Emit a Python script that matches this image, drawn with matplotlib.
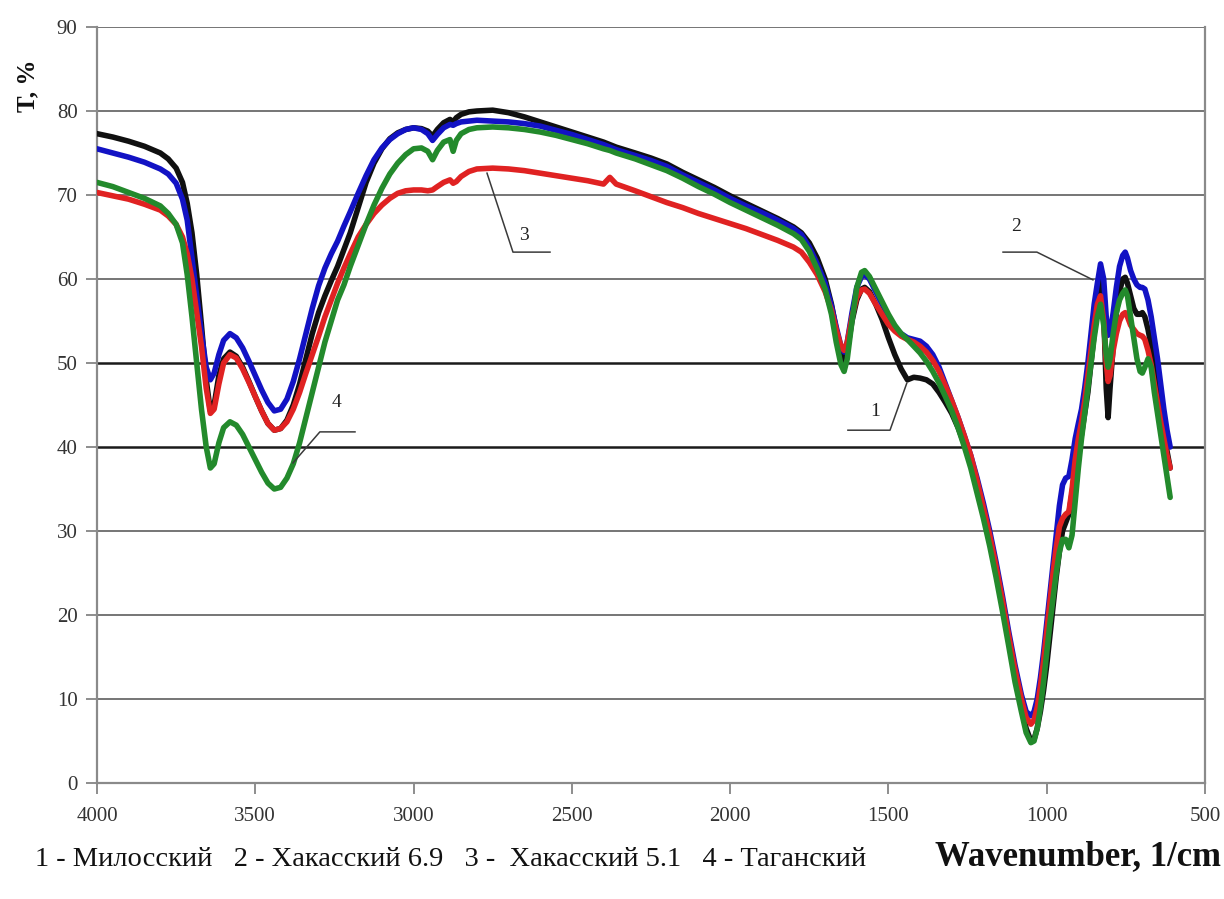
import matplotlib
matplotlib.use("Agg")
import matplotlib.pyplot as plt
import numpy as np

# Wavenumber grid, 1/cm (descending)
wavenumber = [
    4000, 3950, 3900, 3850, 3800, 3775, 3750, 3730, 3715, 3700, 3685, 3670, 3655, 3642, 3630,
    3615, 3600, 3580, 3560, 3540, 3520, 3500, 3480, 3460, 3440, 3420, 3400, 3380, 3360, 3340,
    3320, 3300, 3280, 3260, 3240, 3220, 3200, 3175, 3150, 3125, 3100, 3075, 3050, 3025, 3000,
    2975, 2955, 2940, 2925, 2905, 2885, 2875, 2865, 2850, 2825, 2800, 2750, 2700, 2650, 2600,
    2550, 2500, 2450, 2400, 2380, 2360, 2300, 2250, 2200, 2150, 2100, 2050, 2000, 1950, 1900,
    1850, 1800, 1775, 1750, 1725, 1700, 1680, 1665, 1650, 1640, 1630, 1615, 1600, 1585, 1575,
    1560, 1540, 1520, 1500, 1480, 1460, 1440, 1420, 1400, 1380, 1360, 1340, 1320, 1300, 1280,
    1260, 1240, 1220, 1200, 1180, 1160, 1140, 1120, 1100, 1080, 1065, 1050, 1040, 1030, 1020,
    1010, 1000, 990, 980, 970, 960, 950, 940, 930, 920, 910, 900, 890, 880, 870,
    860, 850, 840, 830, 820, 812, 806, 800, 790, 780, 770, 760, 752, 745, 735,
    725, 715, 705, 698, 690, 680, 670, 660, 650, 640, 630, 620, 610,
]

# Transmittance, % -- 1: Милосский
t_milos = [
    77.3, 76.9, 76.4, 75.8, 75.0, 74.3, 73.2, 71.5, 69.0, 65.5, 60.5, 54.5, 48.0, 44.3, 45.0,
    48.5, 50.5, 51.3, 50.8, 49.5, 47.8, 46.0, 44.3, 42.8, 42.0, 42.2, 43.2, 45.0, 47.5, 50.5,
    53.5, 56.0, 58.0, 59.8, 61.5, 63.5, 65.5, 68.5, 71.5, 73.8, 75.5, 76.7, 77.4, 77.8, 78.0,
    77.9, 77.6, 77.0, 77.8, 78.6, 79.0, 78.7, 79.2, 79.6, 79.9, 80.0, 80.1, 79.8, 79.3, 78.7,
    78.1, 77.5, 76.9, 76.3, 76.0, 75.7, 75.0, 74.4, 73.7, 72.7, 71.8, 70.9, 69.9, 69.0, 68.1,
    67.2, 66.2, 65.5, 64.3, 62.5, 60.0, 57.0, 54.0, 51.0, 50.3, 51.5, 55.0, 57.5, 58.8, 59.0,
    58.5, 57.0, 55.2, 53.0, 51.0, 49.3, 48.0, 48.3, 48.2, 48.0, 47.5, 46.5, 45.3, 44.0, 42.3,
    40.3, 38.0, 35.3, 32.3, 29.0, 25.5, 21.5, 17.0, 12.8, 9.0, 6.5, 5.0, 5.2, 6.5, 8.5,
    11.0, 14.0, 17.5, 21.0, 24.5, 27.5, 30.0, 31.0, 32.0, 34.5, 37.5, 39.5, 41.5, 44.0, 46.5,
    50.0, 53.5, 57.0, 59.8, 56.0, 47.0, 43.5, 47.0, 52.0, 56.0, 58.5, 60.0, 60.2, 59.5, 58.0,
    56.5, 55.8, 55.8, 56.0, 55.5, 54.0, 52.0, 49.5, 47.0, 44.5, 42.0, 39.5, 37.5,
]

# 2: Хакасский 6.9
t_khak69 = [
    75.5, 75.0, 74.5, 73.9, 73.1, 72.5, 71.4, 69.5, 67.0, 62.5, 58.0, 53.5, 49.5, 48.0, 48.8,
    51.0, 52.7, 53.5, 53.0, 51.8, 50.2, 48.5, 46.8, 45.3, 44.3, 44.5, 45.7, 47.8, 50.5, 53.5,
    56.5, 59.2, 61.3, 63.0, 64.5, 66.3, 68.0, 70.2, 72.3, 74.2, 75.6, 76.6, 77.3, 77.8, 78.0,
    77.8, 77.3, 76.5, 77.2, 78.0, 78.4, 78.3, 78.5, 78.7, 78.8, 78.9, 78.8, 78.7, 78.5, 78.2,
    77.7, 77.2, 76.6, 76.0, 75.7, 75.4, 74.7, 74.1, 73.4, 72.4, 71.5, 70.6, 69.6, 68.7, 67.9,
    67.0, 66.0, 65.3, 63.8, 61.8, 59.5, 56.8, 54.3, 52.0, 51.3, 52.5, 56.0, 59.0, 60.3, 60.5,
    60.0, 58.5, 57.0, 55.5, 54.3, 53.5, 53.0, 52.8, 52.6, 52.0, 51.0, 49.5, 47.5, 45.5, 43.5,
    41.3, 39.0, 36.3, 33.3, 30.0, 26.3, 22.3, 18.0, 14.0, 10.5, 8.5, 8.0, 8.5, 10.0, 12.5,
    15.5, 19.0, 22.5, 26.0, 29.5, 33.0, 35.5, 36.3, 36.5, 38.5, 41.0, 42.8, 44.5, 47.0, 50.0,
    53.5, 57.0, 59.5, 61.8, 60.0, 55.5, 53.3, 53.5, 56.0, 59.0, 61.5, 62.8, 63.2, 62.5, 61.0,
    60.0, 59.3, 59.0, 59.0, 58.8, 57.5, 55.5, 53.0, 50.5, 47.5, 44.5, 42.0, 40.0,
]

# 3: Хакасский 5.1
t_khak51 = [
    70.3, 69.9, 69.5, 68.9, 68.2, 67.5, 66.5, 65.0, 63.0, 60.0, 56.0, 52.0, 47.0, 44.0, 44.5,
    47.5, 50.0, 51.0, 50.6, 49.3, 47.7, 46.0, 44.3, 42.8, 42.0, 42.2, 43.0, 44.5, 46.5, 48.8,
    51.0, 53.2, 55.5, 57.5, 59.5, 61.3, 63.0, 65.0, 66.5, 67.8, 68.8, 69.6, 70.2, 70.5, 70.6,
    70.6, 70.5, 70.6, 71.0, 71.5, 71.8, 71.4, 71.6, 72.2, 72.8, 73.1, 73.2, 73.1, 72.9, 72.6,
    72.3, 72.0, 71.7, 71.3, 72.1, 71.3, 70.5, 69.8, 69.1, 68.5, 67.8, 67.2, 66.6, 66.0, 65.3,
    64.6, 63.8, 63.2, 62.0, 60.5, 58.5, 56.3, 54.0, 52.0, 51.5, 52.5, 55.5, 57.8, 58.7, 58.8,
    58.3, 57.0, 55.8, 54.6, 53.8, 53.2, 52.8, 52.5, 52.0, 51.3, 50.3, 49.0, 47.3, 45.5, 43.5,
    41.3, 39.0, 36.0, 32.8, 29.5, 25.8, 21.8, 17.5, 13.5, 10.0, 7.8, 7.0, 7.5, 9.0, 11.5,
    14.5, 18.0, 21.5, 25.0, 28.0, 30.5, 31.5, 32.0, 32.3, 35.0, 38.5, 41.0, 43.0, 45.5, 48.5,
    51.5, 54.5, 57.0, 58.0, 55.0, 50.0, 47.8, 48.5, 51.5, 53.5, 55.0, 55.8, 56.0, 55.5, 54.5,
    54.0, 53.5, 53.3, 53.2, 52.8, 51.5, 49.8, 47.5, 45.3, 43.0, 41.0, 39.0, 37.5,
]

# 4: Таганский
t_tagan = [
    71.5, 71.0, 70.3, 69.6, 68.7, 67.8, 66.5, 64.3, 60.5, 55.5, 50.0, 44.5, 40.0, 37.5, 38.0,
    40.5, 42.3, 43.0, 42.6, 41.5, 40.0, 38.5, 37.0, 35.7, 35.0, 35.2, 36.3, 38.0, 40.5, 43.5,
    46.5, 49.5, 52.5, 55.0, 57.5, 59.3, 61.5, 64.0, 66.5, 68.8, 70.8, 72.5, 73.8, 74.8, 75.5,
    75.6, 75.2, 74.2, 75.3, 76.3, 76.6, 75.2, 76.5, 77.3, 77.8, 78.0, 78.1, 78.0, 77.8, 77.5,
    77.1, 76.6, 76.1, 75.5, 75.3, 75.0, 74.3, 73.6, 72.9, 72.0, 71.0, 70.1, 69.1, 68.2, 67.3,
    66.4, 65.4, 64.7, 63.3, 61.2, 58.8, 55.8, 52.5, 49.8, 49.0, 50.5, 55.0, 59.0, 60.8, 61.0,
    60.3, 58.8, 57.3, 55.8, 54.5, 53.5, 52.8, 52.0, 51.2, 50.2, 49.0, 47.6, 46.0, 44.3, 42.3,
    40.0, 37.5, 34.5, 31.5, 28.2, 24.5, 20.5, 16.3, 12.0, 8.5, 6.0, 4.8, 5.0, 6.5, 9.0,
    12.0, 15.5, 19.0, 22.0, 25.0, 27.5, 29.0, 29.0, 28.0, 29.5, 33.5, 37.5, 41.0, 44.0, 47.0,
    50.0, 53.0, 55.5, 57.0, 54.5, 51.0, 49.5, 50.5, 53.5, 56.0, 57.5, 58.3, 58.7, 58.0, 55.5,
    53.0, 50.5, 49.0, 48.8, 49.5, 50.5, 49.5, 46.5, 44.0, 41.5, 39.0, 36.5, 34.0,
]

series = [
    ("1", t_milos, "#101010"),
    ("2", t_khak69, "#1212c4"),
    ("3", t_khak51, "#e02222"),
    ("4", t_tagan, "#238a2c"),
]

legend_text = "1 - Милосский   2 - Хакасский 6.9   3 -  Хакасский 5.1   4 - Таганский"
x_label = "Wavenumber, 1/cm"
y_label = "T, %"
x_ticks = [4000, 3500, 3000, 2500, 2000, 1500, 1000, 500]
y_ticks = [0, 10, 20, 30, 40, 50, 60, 70, 80, 90]

# Leader lines for the curve numbers: (label, curve point, elbow, end, text position)
callouts = [
    ("1", (1442, 47.6), (1495, 42.0), (1628, 42.0), (1543, 44.2)),
    ("2", (854, 59.9), (1031, 63.2), (1138, 63.2), (1098, 66.3)),
    ("3", (2768, 72.6), (2686, 63.2), (2569, 63.2), (2652, 65.2)),
    ("4", (3381, 38.1), (3296, 41.8), (3185, 41.8), (3245, 45.3)),
]

serif = ["Liberation Serif", "DejaVu Serif"]

fig = plt.figure(figsize=(12.24, 8.99), dpi=100)
fig.patch.set_facecolor("white")
ax = fig.add_axes([97 / 1224, 1 - 783 / 899, (1205 - 97) / 1224, (783 - 27) / 899])

ax.set_xlim(4000, 500)
ax.set_ylim(0, 90)

# Horizontal grid; the 40 and 50 lines are drawn darker
for v in y_ticks[1:]:
    dark = v in (40, 50)
    ax.axhline(v, color="#1a1a1a" if dark else "#6a6a6a",
               lw=1.8 if dark else 1.3, zorder=1)

for name, vals, color in series:
    ax.plot(wavenumber, vals, color=color, lw=4.0, solid_joinstyle="round",
            solid_capstyle="round", zorder=3)

for label, p0, p1, p2, tp in callouts:
    ax.plot([p0[0], p1[0], p2[0]], [p0[1], p1[1], p2[1]], color="#3a3a3a",
            lw=1.1, zorder=4)
    ax.text(tp[0], tp[1], label, fontsize=14, family=serif, color="#222222",
            ha="center", va="center", zorder=5)

ax.set_xticks(x_ticks)
ax.set_yticks(y_ticks)
ax.tick_params(axis="both", direction="out", length=8, width=1.2, color="#7a7a7a",
               labelcolor="#333333", labelsize=15)
ax.tick_params(axis="x", pad=9)
ax.tick_params(axis="y", pad=6)
for lab in ax.get_xticklabels() + ax.get_yticklabels():
    lab.set_family(serif)

for side in ("left", "bottom", "right"):
    ax.spines[side].set_color("#8a8a8a")
    ax.spines[side].set_linewidth(1.6)
ax.spines["top"].set_visible(False)

fig.text(28 / 1224, 1 - 86 / 899, y_label, rotation=90, fontsize=18, fontweight="bold",
         family=serif, ha="center", va="center", color="#111111")
fig.text(35 / 1224, 1 - 860 / 899, legend_text, fontsize=20.5, family=serif,
         ha="left", va="center", color="#111111")
fig.text(1221 / 1224, 1 - 857 / 899, x_label, fontsize=25, fontweight="bold",
         family=serif, ha="right", va="center", color="#111111")

fig.savefig("out.png", dpi=100, facecolor="white")
